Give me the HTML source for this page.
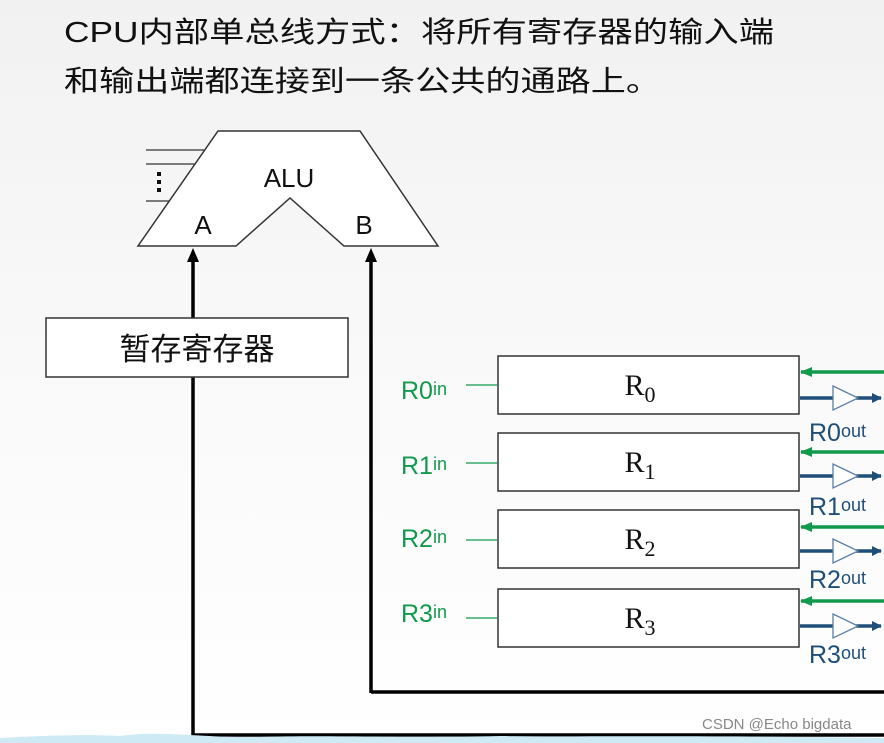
<!DOCTYPE html>
<html><head><meta charset="utf-8"><style>
html,body{margin:0;padding:0;}
body{width:884px;height:743px;overflow:hidden;background:linear-gradient(#f1f1f1 0%,#f8f8f8 40%,#ffffff 100%);}
svg{display:block;}
</style></head><body>
<svg width="884" height="743" viewBox="0 0 884 743" xmlns="http://www.w3.org/2000/svg" font-family="'Liberation Sans','Noto Sans CJK SC',sans-serif">
<defs>
<marker id="ag" markerWidth="12" markerHeight="10" refX="11" refY="5" orient="auto" markerUnits="userSpaceOnUse"><path d="M0,0 L12,5 L0,10 z" fill="#119a4c"/></marker>
<marker id="abl" markerWidth="10" markerHeight="10" refX="9" refY="5" orient="auto" markerUnits="userSpaceOnUse"><path d="M0,0 L10,5 L0,10 z" fill="#1f4e79"/></marker>
</defs>
<text x="64" y="42" font-size="29" fill="#111" textLength="710" lengthAdjust="spacingAndGlyphs">CPU内部单总线方式：将所有寄存器的输入端</text>
<text x="64" y="91" font-size="29" fill="#111" textLength="597" lengthAdjust="spacingAndGlyphs">和输出端都连接到一条公共的通路上。</text>
<g stroke="#333" stroke-width="1.3" fill="none">
<line x1="146" y1="150" x2="204" y2="150"/><line x1="146" y1="164" x2="195" y2="164"/><line x1="146" y1="201" x2="170" y2="201"/>
</g>
<g fill="#111"><rect x="157" y="172" width="4" height="4"/><rect x="157" y="180" width="4" height="4"/><rect x="157" y="188" width="4" height="4"/></g>
<path d="M218,131 L360,131 L438,246 L344,246 L290,198 L236,246 L138,246 Z" fill="#fff" stroke="#333" stroke-width="1.5"/>
<text x="289" y="187" font-size="26" text-anchor="middle" fill="#111">ALU</text>
<text x="203" y="234" font-size="26" text-anchor="middle" fill="#111">A</text>
<text x="364" y="234" font-size="26" text-anchor="middle" fill="#111">B</text>
<g stroke="#000" stroke-width="3.5" fill="none">
<path d="M193,735 L884,735"/><path d="M371,692 L884,692"/>
<line x1="193" y1="736" x2="193" y2="256"/><line x1="371" y1="693" x2="371" y2="256"/>
</g>
<path d="M187,262 L193,248 L199,262 Z" fill="#000"/><path d="M365,262 L371,248 L377,262 Z" fill="#000"/>
<rect x="46" y="318" width="302" height="59" fill="#fff" stroke="#333" stroke-width="1.5"/>
<text x="197" y="360" font-size="31" text-anchor="middle" fill="#111">暂存寄存器</text>
<g stroke="#333" stroke-width="1.5" fill="#fff">
<rect x="498" y="356" width="301" height="58"/><rect x="498" y="433" width="301" height="58"/>
<rect x="498" y="510" width="301" height="58"/><rect x="498" y="589" width="301" height="58"/>
</g>
<g font-family="'Liberation Serif',serif" font-size="30" fill="#111" text-anchor="middle">
<text x="640" y="395">R<tspan font-size="22" dy="7">0</tspan></text>
<text x="640" y="472">R<tspan font-size="22" dy="7">1</tspan></text>
<text x="640" y="549">R<tspan font-size="22" dy="7">2</tspan></text>
<text x="640" y="628">R<tspan font-size="22" dy="7">3</tspan></text>
</g>
<g fill="#119a4c" font-size="25">
<text x="401" y="399">R0<tspan font-size="18" dy="-4">in</tspan></text>
<text x="401" y="474">R1<tspan font-size="18" dy="-4">in</tspan></text>
<text x="401" y="547">R2<tspan font-size="18" dy="-4">in</tspan></text>
<text x="401" y="622">R3<tspan font-size="18" dy="-4">in</tspan></text>
</g>
<g stroke="#119a4c" stroke-width="1.3">
<line x1="466" y1="385" x2="497" y2="385"/><line x1="466" y1="463" x2="497" y2="463"/>
<line x1="466" y1="540" x2="497" y2="540"/><line x1="466" y1="618" x2="497" y2="618"/>
</g>
<g stroke="#119a4c" stroke-width="3.5" marker-end="url(#ag)">
<line x1="884" y1="372" x2="801" y2="372"/><line x1="884" y1="452" x2="801" y2="452"/>
<line x1="884" y1="527" x2="801" y2="527"/><line x1="884" y1="601" x2="801" y2="601"/>
</g>
<g stroke="#1f4e79" stroke-width="3.5">
<line x1="800" y1="398" x2="834" y2="398"/><line x1="856" y1="398" x2="881" y2="398" marker-end="url(#abl)"/>
<line x1="800" y1="476" x2="834" y2="476"/><line x1="856" y1="476" x2="881" y2="476" marker-end="url(#abl)"/>
<line x1="800" y1="551" x2="834" y2="551"/><line x1="856" y1="551" x2="881" y2="551" marker-end="url(#abl)"/>
<line x1="800" y1="626" x2="834" y2="626"/><line x1="856" y1="626" x2="881" y2="626" marker-end="url(#abl)"/>
</g>
<g fill="#fff" stroke="#5b7fa6" stroke-width="1.3">
<path d="M833,386 L858,398 L833,410 Z"/><path d="M833,464 L858,476 L833,488 Z"/>
<path d="M833,539 L858,551 L833,563 Z"/><path d="M833,614 L858,626 L833,638 Z"/>
</g>
<g fill="#1f4e79" font-size="25">
<text x="809" y="441">R0<tspan font-size="18" dy="-4">out</tspan></text>
<text x="809" y="515">R1<tspan font-size="18" dy="-4">out</tspan></text>
<text x="809" y="588">R2<tspan font-size="18" dy="-4">out</tspan></text>
<text x="809" y="663">R3<tspan font-size="18" dy="-4">out</tspan></text>
</g>
<text x="702" y="729" font-size="15" fill="#888">CSDN @Echo bigdata</text>
<path d="M0,743 L0,738 C40,736 80,734 120,736 C160,730 200,738 260,737 C320,735 400,738 500,736 C600,737 700,735 884,738 L884,743 Z" fill="#cdeaf5"/>
</svg>
</body></html>
